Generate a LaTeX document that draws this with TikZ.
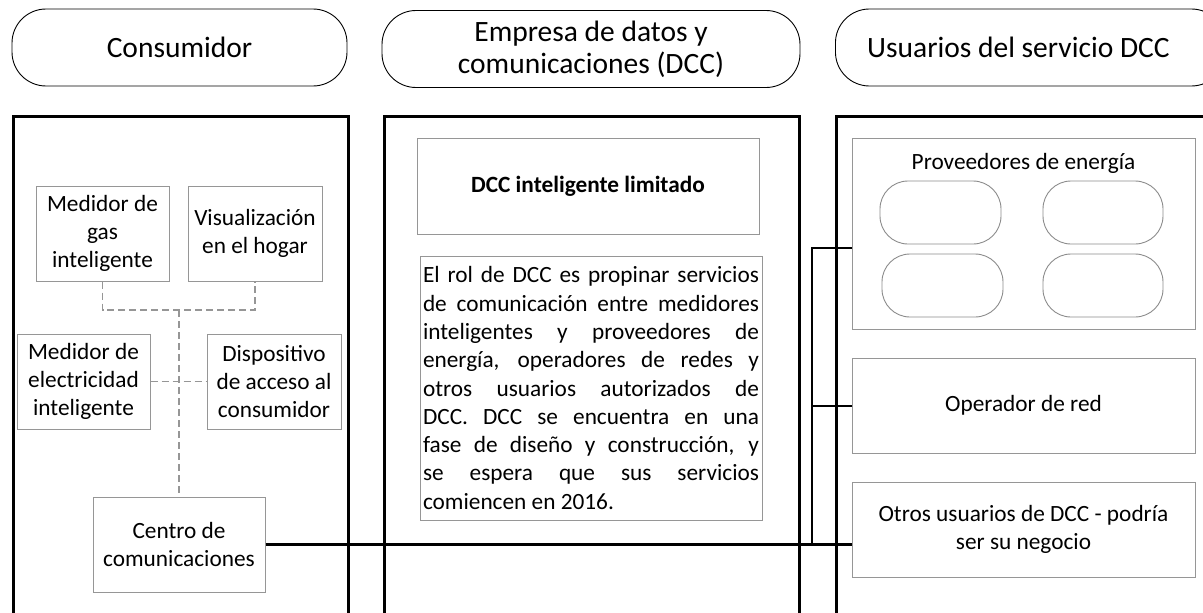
\documentclass[tikz,border=0pt]{standalone}
\usepackage{fontspec}
\setmainfont{Carlito}
\hbadness=10000
\definecolor{boxgray}{RGB}{150,150,150}
\definecolor{pillgray}{RGB}{140,140,140}
\definecolor{dashgray}{RGB}{150,150,150}
\tikzset{
  x=1pt,y=-1pt,
  hdr/.style={draw=black,line width=0.9pt,rounded corners=34pt,align=center,inner sep=0pt,
    font=\fontsize{29.5}{32}\selectfont},
  colbox/.style={draw=black,line width=3pt,inner sep=0pt,anchor=north west},
  ibox/.style={draw=boxgray,line width=1pt,align=center,inner sep=0pt,
    font=\fontsize{23.3}{28.4}\selectfont},
  ipill/.style={draw=pillgray,line width=0.9pt,rounded corners=28pt,inner sep=0pt,
    minimum height=63pt},
  dsh/.style={draw=dashgray,line width=1.4pt,dash pattern=on 7pt off 4pt},
  conn/.style={draw=black,line width=2.5pt},
  busline/.style={draw=black,line width=2pt},
  lbl/.style={inner sep=0pt,font=\fontsize{23.3}{28.4}\selectfont,align=center}
}
\begin{document}
\begin{tikzpicture}
\useasboundingbox (0,0) rectangle (1203,613);
\clip (0,0) rectangle (1203,613);
\fill[white] (0,0) rectangle (1203,613);
% headers
\node[hdr,minimum width=335pt,minimum height=77pt] (hL) at (179.5,47.5) {Consumidor};
\node[hdr,minimum width=418pt,minimum height=77pt] (hM) at (591,49) {Empresa de datos y\\comunicaciones (DCC)};
\node[hdr,minimum width=390pt,minimum height=77pt,anchor=west] (hR) at (835,47.5) {\hspace*{-12pt}Usuarios del servicio DCC\hspace*{12pt}};
% columns
\node[colbox,minimum width=335pt,minimum height=540pt] (cL) at (12,115) {};
\node[colbox,minimum width=415pt,minimum height=540pt] (cM) at (383,115) {};
\node[colbox,minimum width=400pt,minimum height=540pt] (cR) at (835,115) {};
% left column
\node[ibox,minimum width=133pt,minimum height=95pt] (gas) at (102.5,233.5) {Medidor de\\gas\\inteligente};
\node[ibox,minimum width=134pt,minimum height=95pt] (vis) at (255,233.5) {Visualización\\en el hogar};
\node[ibox,minimum width=133pt,minimum height=95pt] (elec) at (83.5,381.5) {Medidor de\\electricidad\\inteligente};
\node[ibox,minimum width=134pt,minimum height=95pt] (disp) at (274,381.5) {Dispositivo\\de acceso al\\consumidor};
\node[ibox,minimum width=172pt,minimum height=95pt] (centro) at (179,544.5) {Centro de\\comunicaciones};
\coordinate (jgv) at (179,310);
\draw[dsh] (gas.south) |- (jgv) -| (vis.south);
\draw[dsh] (jgv) -- (centro.north);
\draw[dsh] (elec.east) -- (disp.west);
% middle column
\node[ibox,minimum width=342pt,minimum height=96pt,font=\fontsize{23.3}{28.4}\selectfont\bfseries] (dcc) at (588,186) {DCC inteligente limitado};
\node[ibox,minimum width=342pt,minimum height=264pt] (rol) at (591,388) {\parbox{336pt}{\fontsize{23.3}{28.3}\selectfont\tolerance=10000\spaceskip=0.226em plus 2em minus 0.05em
El rol de DCC es propinar servicios\linebreak
de comunicación entre medidores\linebreak
inteligentes y proveedores de\linebreak
energía, operadores de redes y\linebreak
otros usuarios autorizados de\linebreak
DCC. DCC se encuentra en una\linebreak
fase de diseño y construcción, y\linebreak
se espera que sus servicios\linebreak
comiencen en 2016.}};
% right column
\node[ibox,minimum width=343pt,minimum height=191pt] (prov) at (1023.5,233.5) {};
\node[lbl] (provl) at (1023.5,163) {Proveedores de energía};
\node[ipill,minimum width=121pt] (p1) at (940.5,212.5) {};
\node[ipill,minimum width=120pt] (p2) at (1103,212.5) {};
\node[ipill,minimum width=121pt] (p3) at (942.5,285.5) {};
\node[ipill,minimum width=120pt] (p4) at (1103,285.5) {};
\node[ibox,minimum width=343pt,minimum height=95pt] (oper) at (1023.5,405.5) {Operador de red};
\node[ibox,minimum width=343pt,minimum height=95pt] (otros) at (1023.5,529.5) {Otros usuarios de DCC - podría\\ser su negocio};
% connectors
\draw[conn] (centro.east) -- (centro.east -| otros.west);
\coordinate (busT) at (812,248);
\coordinate (busB) at (812,544.5);
\draw[busline] (busB) -- (busT) -- (busT -| prov.west);
\draw[busline] (oper.west -| busB) -- (oper.west);
\end{tikzpicture}
\end{document}
